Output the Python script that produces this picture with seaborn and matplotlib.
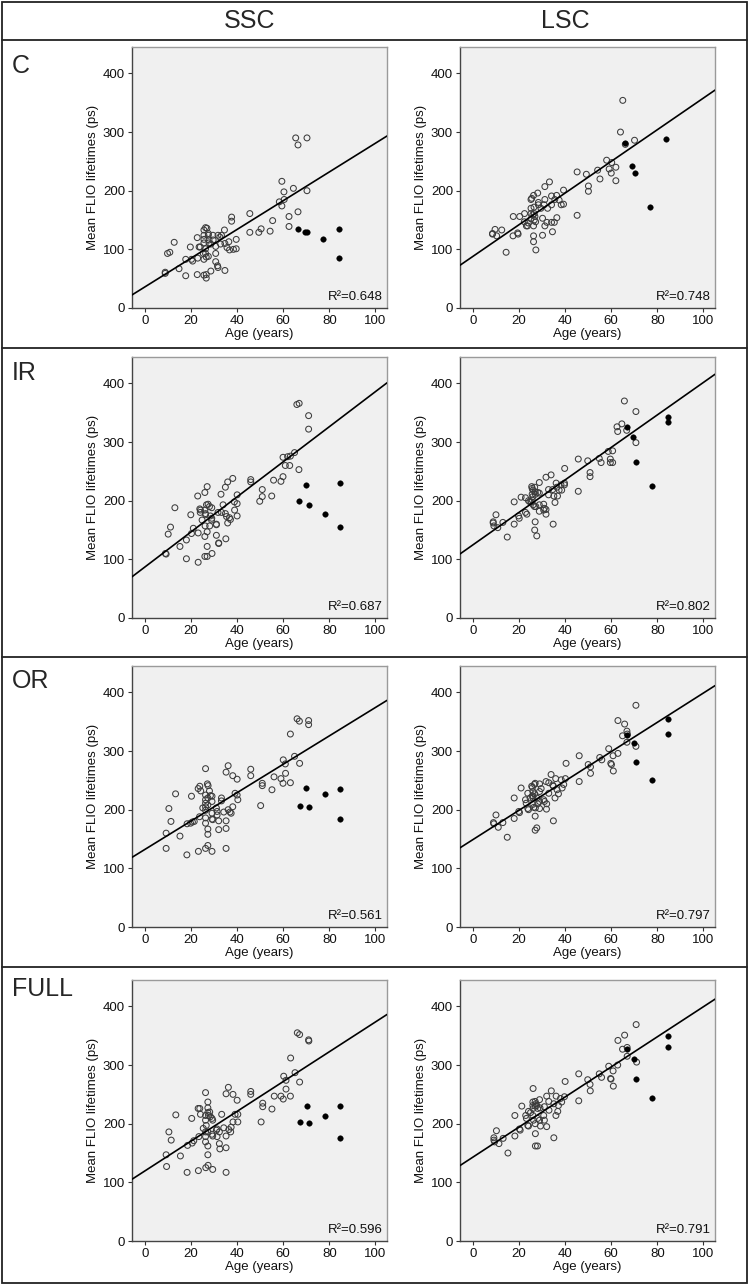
import numpy as np
import pandas as pd
import matplotlib
matplotlib.use("Agg")
import matplotlib.pyplot as plt
from matplotlib.lines import Line2D
from matplotlib.patches import Rectangle
import seaborn as sns

# ---------------- DATA ----------------
regions = ["C", "IR", "OR", "FULL"]
columns = ["SSC", "LSC"]

# C / SSC
C_SSC_age = [8.8, 8.8, 9.8, 10.8, 12.7, 14.8, 17.7, 17.7, 19.7, 20.2, 20.7, 22.7, 22.7, 22.9, 23.5, 24, 25.3, 25.6, 25.6, 25.6,
             25.6, 25.6, 25.6, 26.3, 26.9, 26.3, 26.3, 26.6, 26.6, 26.6, 27.5, 27.5, 27.8, 27.8, 27.5, 28.6, 28.6, 29.5, 29.6, 30.7,
             30.7, 30.7, 31.5, 31.7, 31.7, 32.5, 33.2, 34.5, 34.7, 34.7, 35.6, 36.4, 37.6, 37.6, 38.4, 39.6, 39.6, 36.7, 32.8, 45.5,
             45.5, 49.4, 50.4, 54.3, 55.4, 59.4, 60.3, 58.3, 59.4, 60.4, 64.4, 62.5, 62.5, 65.4, 66.4, 66.4, 70.3, 70.3]
C_SSC_val = [61, 59, 93, 95, 112, 67, 83, 55, 104, 83, 80, 120, 57, 85, 104, 104, 93, 133, 124, 117,
             111, 83, 56, 137, 136, 101, 93, 87, 57, 51, 127, 124, 116, 111, 88, 109, 63, 124, 116, 105,
             93, 79, 72, 69, 124, 121, 124, 133, 110, 64, 103, 113, 155, 148, 100, 117, 101, 99, 109, 161,
             129, 129, 135, 131, 149, 216, 198, 181, 174, 185, 204, 156, 139, 290, 278, 164, 290, 200]
C_SSC_age_f = [66.4, 69.3, 70.3, 77.4, 84.1, 84.1]
C_SSC_val_f = [135, 129, 129, 117, 135, 85]

# C / LSC
C_LSC_age = [8.5, 8.5, 9.6, 10.3, 12.5, 14.4, 17.4, 19.6, 19.4, 17.5, 20.3, 22.4, 22.3, 23.2, 23.7, 24, 25.2, 25.5, 25.2, 26.3,
             25.2, 25.2, 26, 26.5, 26.6, 26.3, 26.3, 26.3, 27.3, 26.6, 26.9, 27.2, 28.1, 28.4, 28.4, 30.2, 30.2, 31.2, 31.2, 32.4,
             33.2, 34.1, 36.3, 34.5, 35.3, 36.4, 37.4, 38.3, 39.3, 39.3, 34.1, 35.5, 31.2, 29.5, 30.9, 32.1, 34.1, 45.2, 45.2, 49.2,
             50.1, 50.1, 54.1, 55.1, 58, 59.1, 60.2, 60, 62, 62, 64, 65, 66.1, 70.1]
C_LSC_val = [127, 126, 134, 123, 133, 95, 123, 126, 128, 156, 156, 161, 147, 140, 140, 145, 185, 187, 170, 192,
             161, 152, 159, 172, 150, 140, 123, 113, 99, 161, 156, 147, 196, 180, 176, 153, 124, 207, 140, 170,
             215, 191, 192, 130, 146, 154, 184, 176, 201, 177, 176, 185, 185, 170, 176, 146, 146, 232, 158, 228,
             208, 199, 235, 220, 252, 237, 248, 230, 240, 217, 300, 354, 279, 286]
C_LSC_age_f = [66.1, 69.1, 70.1, 76.9, 83.9]
C_LSC_val_f = [282, 242, 230, 173, 288]

# IR / SSC
IR_SSC_age = [8.9, 9.2, 10.1, 11.1, 13, 15.2, 18, 18, 19.9, 20.2, 21, 22.9, 23.1, 23.1, 23.8, 24.1, 24, 24.8, 26, 26,
              26.3, 26.3, 26.1, 26, 26, 27, 27, 26.7, 27.4, 28, 27, 27, 28.1, 28.4, 29, 29, 28.9, 29.1, 31, 31,
              31, 31.7, 32, 32, 33, 33.2, 33.9, 34.9, 34.9, 35.1, 35.4, 35.9, 35.9, 36.7, 37.1, 38.1, 38.8, 38.9, 40, 40,
              40, 45.9, 45.9, 49.8, 50.9, 50.9, 55, 55.8, 59, 59.9, 59.9, 60.9, 61.9, 62.8, 63.1, 64.9, 66.8, 65.9, 66.9, 71,
              71]
IR_SSC_val = [110, 109, 143, 155, 188, 122, 101, 133, 176, 144, 153, 208, 145, 95, 186, 184, 180, 167, 214, 184,
              178, 176, 157, 139, 105, 105, 224, 193, 194, 190, 147, 122, 157, 174, 188, 170, 167, 110, 160, 159,
              141, 180, 128, 127, 211, 180, 193, 223, 178, 135, 173, 162, 232, 171, 168, 238, 198, 184, 210, 195,
              174, 236, 232, 199, 207, 219, 208, 235, 233, 241, 274, 260, 275, 260, 276, 282, 253, 364, 366, 345,
              322]
IR_SSC_age_f = [66.9, 69.8, 71, 77.9, 84.7, 84.7]
IR_SSC_val_f = [199, 227, 193, 177, 230, 155]

# IR / LSC
IR_LSC_age = [8.8, 8.8, 9.1, 10, 10.8, 13, 14.9, 17.9, 17.9, 19.8, 20.1, 20.9, 22.8, 22.8, 23.4, 24.1, 24.7, 25.3, 25.5, 25.7,
              26, 25.7, 26, 25.7, 26.1, 26.7, 26.8, 27, 27.1, 26.8, 27, 27.3, 27.7, 28.1, 28.8, 28.8, 28.8, 28.8, 30.7, 30.7,
              31, 31.7, 31.7, 31.7, 32.8, 32.8, 33.9, 34.6, 34.8, 35.1, 35.6, 36.1, 36.4, 36.7, 37.4, 38.2, 38.5, 39.7, 39.7, 39.8,
              45.7, 45.7, 49.8, 50.8, 50.8, 54.8, 55.6, 58.7, 59.6, 59.6, 60.6, 60.6, 62.5, 62.8, 64.6, 65.7, 66.7, 70.7, 70.7]
IR_LSC_val = [164, 162, 157, 176, 154, 163, 138, 198, 160, 174, 170, 206, 205, 180, 177, 200, 198, 198, 224, 221,
              218, 211, 207, 201, 193, 190, 223, 215, 211, 150, 164, 190, 140, 214, 213, 231, 193, 182, 194, 184,
              187, 185, 177, 240, 219, 210, 244, 219, 160, 208, 197, 230, 223, 208, 218, 227, 218, 230, 227, 255,
              271, 216, 268, 248, 241, 272, 265, 284, 271, 265, 285, 265, 326, 318, 331, 370, 320, 352, 299]
IR_LSC_age_f = [66.7, 69.6, 70.7, 77.6, 84.4, 84.4]
IR_LSC_val_f = [325, 309, 266, 225, 343, 335]

# OR / SSC
OR_SSC_age = [9.2, 9.2, 10.4, 11.3, 13.3, 15.2, 18.2, 18.3, 20.2, 19.8, 20.6, 21.4, 23.1, 23.8, 24.2, 23.2, 23.7, 25.1, 26.3, 26.3,
              26.3, 26.3, 26.3, 26.3, 26.3, 26.3, 26.3, 27.1, 27.4, 27.3, 27.3, 27.3, 27.3, 27.3, 28, 28.4, 29.1, 29.1, 29.1, 29.1,
              29.4, 29.1, 31, 31.3, 31.3, 32, 32, 33.2, 33.2, 34.2, 35.2, 35.2, 35.2, 35.2, 36.1, 36.1, 36.9, 37.4, 38.1, 38.1,
              39.1, 40, 40, 40.3, 45.9, 45.9, 50.2, 50.9, 50.9, 55.1, 56, 59, 59.9, 60, 60.9, 61, 63.1, 63.1, 64.9, 67.1,
              66, 67, 71, 71]
OR_SSC_val = [160, 134, 202, 180, 227, 155, 123, 176, 223, 177, 179, 180, 236, 240, 232, 129, 188, 203, 270, 225,
              217, 211, 205, 199, 186, 177, 134, 244, 241, 220, 208, 167, 158, 139, 232, 224, 223, 214, 194, 184,
              183, 129, 203, 197, 191, 181, 166, 220, 215, 196, 264, 181, 168, 134, 275, 200, 196, 194, 258, 205,
              228, 252, 225, 217, 269, 258, 207, 245, 241, 234, 256, 253, 245, 285, 278, 262, 246, 329, 291, 279,
              355, 351, 352, 345]
OR_SSC_age_f = [67.1, 70, 71.1, 77.9, 84.8, 84.8]
OR_SSC_val_f = [207, 237, 205, 227, 236, 184]

# OR / LSC
OR_LSC_age = [8.9, 9.1, 10, 11, 13, 14.9, 17.9, 17.9, 19.9, 20.2, 20.9, 22.8, 23.1, 23.8, 23.8, 24.1, 24.8, 25.5, 25.8, 26,
              25.8, 26, 26, 26, 26.4, 26.7, 27, 26.8, 27, 27, 27.7, 27.1, 27.8, 28.1, 28.9, 28.9, 28.9, 28.9, 29.6, 30.7,
              31, 31.7, 32, 31.9, 32.9, 32.9, 33.9, 34.6, 34.9, 34.9, 35.6, 35.9, 36.5, 37.1, 38.3, 38.7, 39.4, 40.1, 40.4, 46.1,
              46.1, 50, 51, 51, 55, 55.9, 58.9, 59.8, 60.1, 60.8, 60.9, 62.9, 62.9, 64.9, 65.8, 66.8, 67, 66.8, 70.7, 70.7]
OR_LSC_val = [178, 176, 191, 170, 178, 153, 220, 185, 197, 195, 237, 217, 211, 228, 202, 200, 220, 240, 238, 231,
              224, 223, 220, 209, 204, 243, 245, 227, 189, 165, 169, 203, 220, 210, 244, 231, 214, 202, 236, 217,
              214, 248, 210, 201, 246, 228, 260, 242, 240, 181, 220, 253, 234, 227, 251, 237, 243, 253, 279, 292,
              248, 277, 262, 273, 289, 285, 304, 279, 277, 292, 266, 296, 352, 326, 346, 334, 329, 315, 378, 308]
OR_LSC_age_f = [66.8, 69.7, 70.9, 77.6, 84.6, 84.6]
OR_LSC_val_f = [328, 313, 281, 250, 354, 329]

# FULL / SSC
FULL_SSC_age = [9.2, 9.4, 10.4, 11.4, 13.4, 15.4, 18.3, 18.5, 20.3, 20.5, 21.2, 23.1, 23.8, 23.2, 23.4, 24.1, 25.3, 26.3, 26.3, 26.3,
                26.6, 26.3, 26.3, 26.3, 26.4, 27.3, 27.3, 27.3, 27.6, 27.3, 27.3, 27.3, 27.4, 28.1, 28.4, 29.1, 29.4, 29.1, 29.4, 29.4,
                31, 31.3, 31.3, 32.3, 32.3, 32.5, 33.3, 34.2, 35.2, 35.2, 35.2, 35.2, 36.2, 36.4, 37.2, 37.4, 38.2, 38.2, 39.1, 40,
                40.3, 40.3, 45.9, 45.9, 50.4, 51.1, 51.1, 55.1, 56.1, 59, 60, 60.2, 61.2, 61.2, 63.1, 63.2, 65.1, 67.1, 66.1, 67.1,
                71, 71.1]
FULL_SSC_val = [147, 127, 186, 172, 215, 145, 117, 163, 209, 167, 171, 226, 226, 120, 178, 216, 192, 253, 214, 206,
                197, 186, 178, 169, 125, 237, 227, 219, 214, 186, 162, 147, 129, 220, 212, 209, 206, 182, 179, 122,
                189, 191, 178, 186, 166, 157, 216, 193, 251, 179, 159, 117, 262, 190, 186, 194, 250, 203, 216, 240,
                216, 203, 255, 250, 203, 235, 229, 225, 247, 247, 242, 281, 274, 259, 247, 312, 287, 271, 355, 352,
                343, 341]
FULL_SSC_age_f = [67.1, 70.1, 71.1, 77.9, 84.8, 84.8]
FULL_SSC_val_f = [203, 231, 201, 213, 231, 175]

# FULL / LSC
FULL_LSC_age = [9.1, 9.1, 9.4, 10.2, 11.3, 13.1, 15.2, 18.2, 18.2, 20.2, 20.5, 21.2, 22.9, 23.2, 24.1, 23.8, 24.1, 25, 26, 26,
                26.1, 26, 26.3, 26.1, 27, 27.3, 27.1, 27, 27.1, 27.1, 28, 27.7, 28.1, 28.1, 28.9, 28.9, 29.1, 29.3, 30.7, 31,
                31, 32, 32, 32.9, 33, 34, 35.1, 35.1, 36, 36.1, 36.8, 37.1, 38, 38.5, 39.7, 40, 45.9, 45.9, 49.8, 50.8,
                50.9, 54.8, 55.8, 58.9, 59.7, 59.9, 60.8, 60.9, 62.8, 62.9, 64.9, 65.8, 66.9, 66.9, 70.8, 71]
FULL_LSC_val = [176, 172, 169, 188, 166, 175, 150, 214, 179, 191, 189, 230, 214, 209, 221, 197, 196, 219, 237, 231,
                226, 214, 206, 260, 238, 234, 230, 200, 183, 162, 162, 231, 226, 209, 206, 241, 227, 196, 214, 206,
                229, 247, 195, 238, 223, 256, 234, 176, 214, 247, 221, 231, 243, 237, 246, 272, 285, 239, 275, 267,
                256, 285, 279, 298, 277, 276, 290, 264, 300, 342, 327, 351, 330, 315, 369, 305]
FULL_LSC_age_f = [66.8, 69.8, 70.8, 77.6, 84.7, 84.7]
FULL_LSC_val_f = [327, 311, 277, 243, 350, 330]

# regression lines: intercept, slope
line_intercept = {"C": [36, 88], "IR": [87, 124.7], "OR": [132.3, 149], "FULL": [119.5, 143]}
line_slope = {"C": [2.45, 2.7], "IR": [2.99, 2.77], "OR": [2.42, 2.5], "FULL": [2.54, 2.565]}
r2_labels = {"C": ["0.648", "0.748"], "IR": ["0.687", "0.802"], "OR": ["0.561", "0.797"], "FULL": ["0.596", "0.791"]}

x_ticks = [0, 20, 40, 60, 80, 100]
y_ticks = [0, 100, 200, 300, 400]
x_label = "Age (years)"
y_label = "Mean FLIO lifetimes (ps)"

panel_data = {
    ("C", 0): (C_SSC_age, C_SSC_val, C_SSC_age_f, C_SSC_val_f),
    ("C", 1): (C_LSC_age, C_LSC_val, C_LSC_age_f, C_LSC_val_f),
    ("IR", 0): (IR_SSC_age, IR_SSC_val, IR_SSC_age_f, IR_SSC_val_f),
    ("IR", 1): (IR_LSC_age, IR_LSC_val, IR_LSC_age_f, IR_LSC_val_f),
    ("OR", 0): (OR_SSC_age, OR_SSC_val, OR_SSC_age_f, OR_SSC_val_f),
    ("OR", 1): (OR_LSC_age, OR_LSC_val, OR_LSC_age_f, OR_LSC_val_f),
    ("FULL", 0): (FULL_SSC_age, FULL_SSC_val, FULL_SSC_age_f, FULL_SSC_val_f),
    ("FULL", 1): (FULL_LSC_age, FULL_LSC_val, FULL_LSC_age_f, FULL_LSC_val_f),
}

# ---------------- STYLE / LAYOUT ----------------
sns.set_style("ticks")
plt.rcParams["font.family"] = ["Liberation Sans", "DejaVu Sans"]

W, H = 750, 1286
fig = plt.figure(figsize=(W / 100, H / 100), dpi=100)


def frect(l, t, r, b):
    return [l / W, 1 - b / H, (r - l) / W, (b - t) / H]


col_x = [(132, 387), (460, 715)]
row_y = [(47, 308), (357, 618), (666, 927), (980, 1241)]
row_lines = [40, 348, 657, 967]
row_label_y = [66, 373, 681, 989]

for ri, reg in enumerate(regions):
    for ci in range(2):
        l, r = col_x[ci]
        t, b = row_y[ri]
        ax = fig.add_axes(frect(l, t, r, b))
        ax.set_facecolor("#f0f0f0")
        age, val, age_f, val_f = panel_data[(reg, ci)]
        df_o = pd.DataFrame({"age": age, "val": val})
        df_f = pd.DataFrame({"age": age_f, "val": val_f})
        sns.scatterplot(data=df_o, x="age", y="val", ax=ax, s=18, marker="o",
                        facecolors="none", edgecolors="#3c3c3c", linewidth=0.75, zorder=3)
        sns.scatterplot(data=df_f, x="age", y="val", ax=ax, s=16, marker="o",
                        color="black", edgecolor="black", linewidth=0.3, zorder=4)
        ax.axline((0, line_intercept[reg][ci]), slope=line_slope[reg][ci],
                  color="black", lw=1.2, zorder=5)
        ax.set_xlim(-5.6, 105)
        ax.set_ylim(0, 445)
        ax.set_xticks(x_ticks)
        ax.set_yticks(y_ticks)
        ax.tick_params(axis="both", labelsize=9.5, length=3, width=0.8, pad=2,
                       color="#333333", labelcolor="#111111")
        ax.set_xlabel(x_label, fontsize=9.5, labelpad=1, color="#111111")
        ax.set_ylabel(y_label, fontsize=9.5, labelpad=3, color="#111111")
        for side in ["left", "bottom"]:
            ax.spines[side].set_color("#444444")
            ax.spines[side].set_linewidth(1.0)
        for side in ["top", "right"]:
            ax.spines[side].set_visible(True)
            ax.spines[side].set_color("#9a9a9a")
            ax.spines[side].set_linewidth(1.0)
        ax.text(0.985, 0.02, "R\u00b2=" + r2_labels[reg][ci], transform=ax.transAxes,
                ha="right", va="bottom", fontsize=9.5, color="#111111")

# header & row labels
fig.text(250 / W, 1 - 21 / H, columns[0], ha="center", va="center", fontsize=18)
fig.text(565 / W, 1 - 21 / H, columns[1], ha="center", va="center", fontsize=18)
for ri, reg in enumerate(regions):
    fig.text(12 / W, 1 - row_label_y[ri] / H, reg, ha="left", va="center", fontsize=18)

# table borders
fig.add_artist(Rectangle((2 / W, 1 - 1283 / H), 745 / W, 1281 / H, fill=False,
                         transform=fig.transFigure, lw=1.3, edgecolor="#222222"))
for yl in row_lines:
    fig.add_artist(Line2D([2 / W, 747 / W], [1 - yl / H, 1 - yl / H],
                          transform=fig.transFigure, lw=1.3, color="#222222"))

fig.savefig("out.png", dpi=100, facecolor="white")
